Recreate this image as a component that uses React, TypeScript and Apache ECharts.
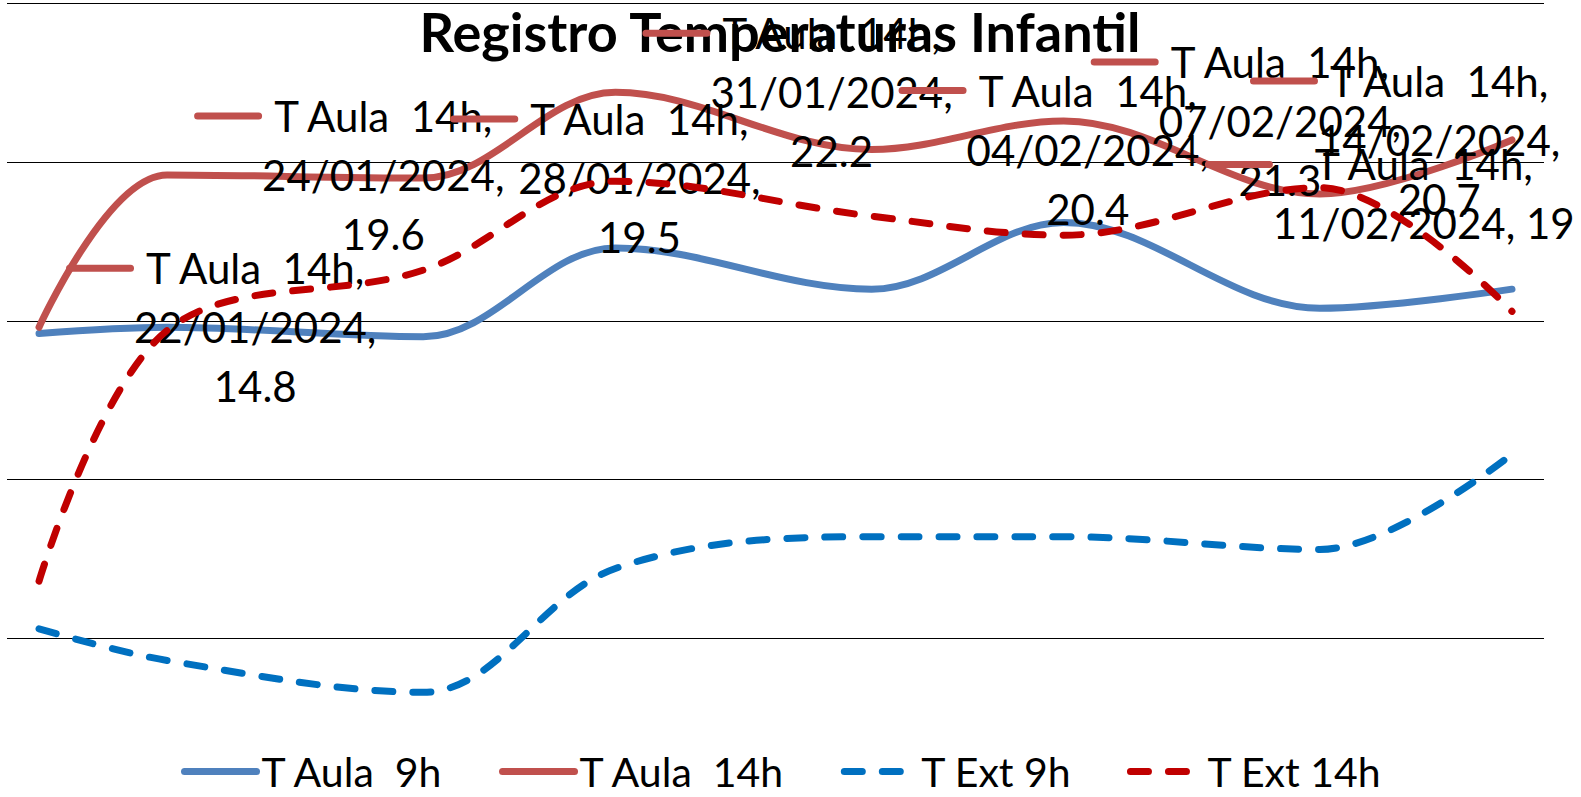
import React, { useEffect, useRef } from 'react';
import * as echarts from 'echarts';

const dates = ['22/01/2024', '24/01/2024', '28/01/2024', '31/01/2024', '04/02/2024', '07/02/2024', '11/02/2024', '14/02/2024'];
const seriesNames = ['T Aula  9h', 'T Aula  14h', 'T Ext 9h', 'T Ext 14h'];
const aula9h = [14.6, 14.8, 14.5, 17.3, 16.0, 18.1, 15.4, 16.0];
const aula14h = [14.8, 19.6, 19.5, 22.2, 20.4, 21.3, 19, 20.7];
const ext9h = [5.3, 4.3, 3.3, 7.2, 8.2, 8.2, 7.8, 10.8];
const ext14h = [6.8, 14.7, 16.6, 19.4, 18.3, 17.7, 19.2, 15.3];
const yMin = 0;
const yMax = 25;
const yStep = 5;
const titleText = 'Registro Temperaturas Infantil';

const FONT = 'Lato, "Open Sans", sans-serif';
const HALF_DAY = 12 * 3600 * 1000;
const KEY_W = 68;

const toTime = (s: string) => {
  const [d, m, y] = s.split('/').map(Number);
  return Date.UTC(y, m - 1, d);
};

const colors = ['#4F81BD', '#C0504D', '#0070C0', '#C00000'];

export default function App() {
  const ref = useRef<HTMLDivElement>(null);

  useEffect(() => {
    if (!ref.current) return;
    const chart = echarts.init(ref.current, null, { renderer: 'svg' });

    const mk = (idx: number, values: number[], dashed: boolean, withLabels: boolean) => ({
      type: 'line',
      name: seriesNames[idx],
      smooth: 0.35,
      symbol: withLabels ? 'circle' : 'none',
      symbolSize: 0.01,
      showSymbol: true,
      color: colors[idx],
      itemStyle: { color: colors[idx] },
      lineStyle: {
        color: colors[idx],
        width: 7,
        type: dashed ? [18, 20] : 'solid',
        cap: 'round',
        join: 'round',
      },
      z: 2 + idx,
      data: values.map((v, i) => {
        const item: any = { value: [toTime(dates[i]), v] };
        if (withLabels && i === 6) item.label = { offset: [-142, 0] };
        if (withLabels && i === 7) item.label = { offset: [-289, 0] };
        return item;
      }),
      label: withLabels
        ? {
            show: true,
            position: 'right',
            distance: 27,
            color: '#000',
            fontFamily: FONT,
            fontSize: 42,
            lineHeight: 59,
            formatter: (p: any) => {
              const i = p.dataIndex;
              const v = p.value[1];
              const lines =
                i === 6
                  ? [`${p.seriesName},`, `${dates[i]}, ${v}`]
                  : [`${p.seriesName},`, `${dates[i]},`, `${v}`];
              return lines.map((l, k) => `{${k === 0 ? 'key' : 'sp'}|}{t|${l}}`).join('\n');
            },
            rich: {
              key: {
                width: KEY_W,
                height: 7,
                lineHeight: 59,
                backgroundColor: colors[idx],
                borderRadius: 3.5,
                align: 'left',
              },
              sp: { width: KEY_W, height: 7, lineHeight: 59, align: 'left' },
              t: {
                align: 'center',
                color: '#000',
                fontFamily: FONT,
                fontSize: 42,
                lineHeight: 59,
              },
            },
          }
        : { show: false },
    });

    chart.setOption({
      animation: false,
      backgroundColor: '#ffffff',
      title: {
        text: titleText,
        left: 780,
        top: 31,
        padding: 0,
        textAlign: 'center',
        textVerticalAlign: 'middle',
        textStyle: { fontFamily: FONT, fontWeight: 'bold', fontSize: 54, color: '#000' },
        z: 1,
      },
      legend: {
        data: seriesNames,
        left: 181,
        top: 751,
        padding: 0,
        itemWidth: 72,
        itemHeight: 14,
        itemGap: 55,
        itemStyle: { opacity: 0 },
        lineStyle: { width: 7, cap: 'round' },
        textStyle: { fontFamily: FONT, fontSize: 41, lineHeight: 40, color: '#000' },
      },
      grid: { left: 7, top: 3.5, width: 1537, height: 794.5, containLabel: false },
      xAxis: {
        type: 'time',
        min: toTime(dates[0]) - HALF_DAY,
        max: toTime(dates[dates.length - 1]) + HALF_DAY,
        show: false,
        splitLine: { show: false },
      },
      yAxis: {
        type: 'value',
        min: yMin,
        max: yMax,
        interval: yStep,
        axisLine: { show: false },
        axisTick: { show: false },
        axisLabel: { show: false },
        splitLine: { show: true, lineStyle: { color: '#000', width: 1.2 } },
      },
      series: [
        mk(0, aula9h, false, false),
        mk(1, aula14h, false, true),
        mk(2, ext9h, true, false),
        mk(3, ext14h, true, false),
      ],
    });

    return () => chart.dispose();
  }, []);

  return (
    <div
      ref={ref}
      style={{
        position: 'fixed',
        left: 0,
        top: 0,
        width: 1581,
        height: 797,
        background: '#fff',
        whiteSpace: 'pre',
      }}
    />
  );
}
